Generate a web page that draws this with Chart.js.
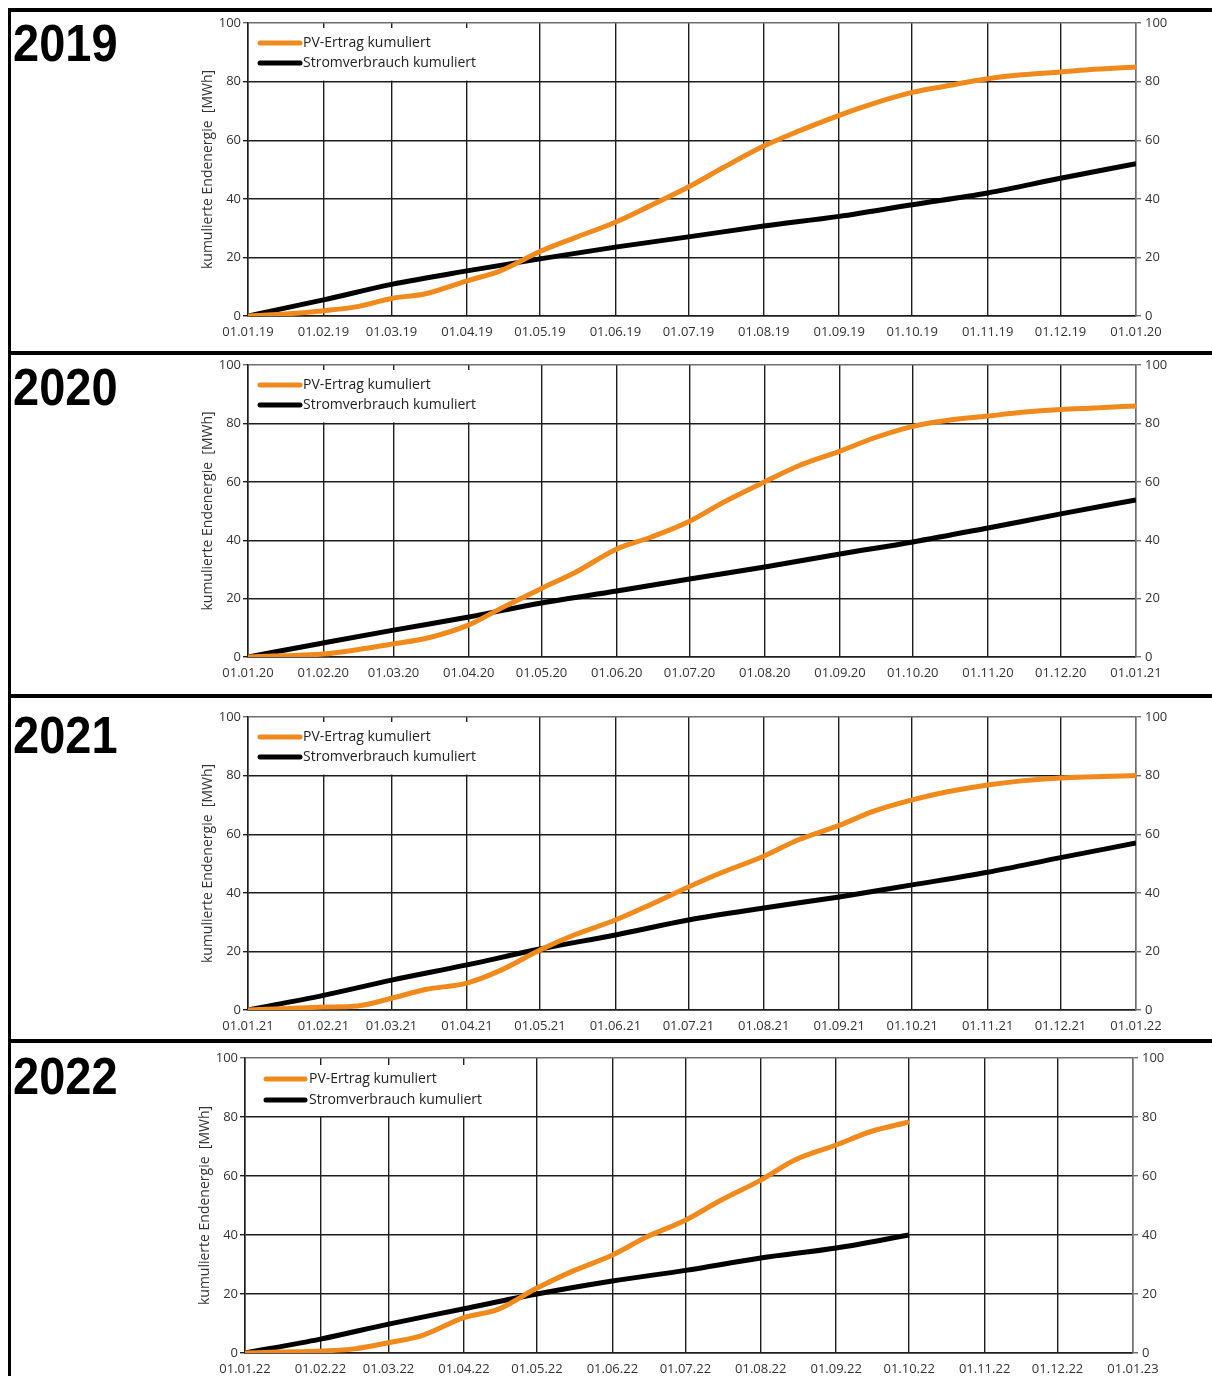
<!DOCTYPE html>
<html lang="de">
<head>
    <meta charset="UTF-8">
    <title>Kumulierte Endenergie 2019 - 2022</title>
    <script src="https://cdn.jsdelivr.net/npm/chart.js"></script>
    <style>
        body {
            margin: 0;
            background: #fff;
        }

        #page {
            position: relative;
            width: 1212px;
            height: 1376px;
            overflow: hidden;
            background: #fff;
        }

        canvas {
            position: absolute;
        }

        .year {
            position: absolute;
            left: 13px;
            font-family: 'Liberation Sans', Arial, sans-serif;
            font-weight: bold;
            font-size: 47px;
            line-height: 1;
            color: #000;
            transform-origin: left top;
            transform: scaleY(1.1);
        }

        .rule {
            position: absolute;
            background: #000;
            z-index: 2;
        }
    </style>
</head>
<body>
<div id="page">
    <div class="rule" style="left:8px; top:8px; width:1204px; height:4px;"></div>
    <div class="rule" style="left:8px; top:8px; width:3px; height:1368px;"></div>
    <div class="rule" style="left:8px; top:351px; width:1204px; height:4px;"></div>
    <div class="rule" style="left:8px; top:694px; width:1204px; height:4px;"></div>
    <div class="rule" style="left:8px; top:1039px; width:1204px; height:4px;"></div>

    <div class="year" style="top:17px;">2019</div>
    <div class="year" style="top:361px;">2020</div>
    <div class="year" style="top:709px;">2021</div>
    <div class="year" style="top:1050px;">2022</div>

    <canvas id="c2019"></canvas>
    <canvas id="c2020"></canvas>
    <canvas id="c2021"></canvas>
    <canvas id="c2022"></canvas>
</div>

<script>
    // Tage ab 01.01. (Monatsanfang und Monatsmitte)
    const monthStarts = [0, 31, 59, 90, 120, 151, 181, 212, 243, 273, 304, 334, 365];
    const monthStartsLeap = [0, 31, 60, 91, 121, 152, 182, 213, 244, 274, 305, 335, 366];
    const halfMonths = [0, 14, 31, 45, 59, 73, 90, 104, 120, 134, 151, 165, 181, 195, 212, 226, 243, 257, 273, 287, 304, 318, 334, 348, 365];
    const halfMonthsLeap = [0, 14, 31, 45, 60, 74, 91, 105, 121, 135, 152, 166, 182, 196, 213, 227, 244, 258, 274, 288, 305, 319, 335, 349, 366];
    const halfMonths2022 = [0, 14, 31, 45, 59, 73, 90, 104, 120, 134, 151, 165, 181, 195, 212, 226, 243, 257, 273];
    const monthStarts2022 = [0, 31, 59, 90, 120, 151, 181, 212, 243, 273];

    const labels2019 = ['01.01.19', '01.02.19', '01.03.19', '01.04.19', '01.05.19', '01.06.19', '01.07.19', '01.08.19', '01.09.19', '01.10.19', '01.11.19', '01.12.19', '01.01.20'];
    const labels2020 = ['01.01.20', '01.02.20', '01.03.20', '01.04.20', '01.05.20', '01.06.20', '01.07.20', '01.08.20', '01.09.20', '01.10.20', '01.11.20', '01.12.20', '01.01.21'];
    const labels2021 = ['01.01.21', '01.02.21', '01.03.21', '01.04.21', '01.05.21', '01.06.21', '01.07.21', '01.08.21', '01.09.21', '01.10.21', '01.11.21', '01.12.21', '01.01.22'];
    const labels2022 = ['01.01.22', '01.02.22', '01.03.22', '01.04.22', '01.05.22', '01.06.22', '01.07.22', '01.08.22', '01.09.22', '01.10.22', '01.11.22', '01.12.22', '01.01.23'];

    // MWh, kumuliert
    const pv2019 = [0, 0.6, 1.8, 3.2, 6, 7.6, 12, 15.5, 22, 26.6, 32, 37.5, 44, 50.5, 58, 63, 68.5, 72.5, 76.3, 78.5, 81, 82.3, 83.3, 84.2, 85];
    const strom2019 = [0, 5.5, 10.8, 15.4, 19.5, 23.5, 27, 30.7, 34, 38, 42, 47, 52];

    const pv2020 = [0, 0.4, 1, 2.5, 4.5, 6.5, 11, 17, 23.5, 29, 37, 41, 46.5, 53, 60, 65.5, 70.5, 75, 79, 81, 82.5, 83.8, 84.8, 85.3, 86];
    const strom2020 = [0, 4.8, 9.2, 13.7, 18.5, 22.6, 26.7, 30.8, 35.3, 39.4, 44.2, 49, 53.8];

    const pv2021 = [0, 0.4, 1, 1.4, 4, 7, 9.2, 13.6, 20.5, 25.6, 30.7, 35.8, 42, 47, 52.5, 58, 63, 67.8, 71.7, 74.4, 76.8, 78.2, 79.2, 79.6, 80];
    const strom2021 = [0, 5, 10.2, 15.4, 20.8, 25.6, 30.7, 34.8, 38.6, 42.7, 47, 52, 57];

    const pv2022 = [0, 0.3, 0.7, 1.4, 3.5, 6, 12, 14.8, 22, 27.5, 33.2, 39.3, 45, 51.5, 58.6, 65.4, 70.5, 75, 78.3];
    const strom2022 = [0, 4.7, 9.8, 15, 20, 24.4, 28, 32.2, 35.6, 40];

    const seriesNames = ['PV-Ertrag kumuliert', 'Stromverbrauch kumuliert'];
    const yTitle = 'kumulierte Endenergie  [MWh]';

    const ORANGE = '#f18a1c';
    const GRID = '#1e1e1e';
    const EDGE = '#6e6e6e';
    const FONT = "'Open Sans', 'Noto Sans', sans-serif";

    function toPoints(days, values) {
        return values.map((v, i) => ({ x: days[i], y: v }));
    }

    // Legende im Diagramm, mit weissem Hintergrund
    const innerLegend = {
        id: 'innerLegend',
        beforeDatasetsDraw(chart, args, opts) {
            const ctx = chart.ctx;
            const a = chart.chartArea;
            const y80 = chart.scales.y.getPixelForValue(80);
            ctx.save();
            ctx.fillStyle = '#fff';
            ctx.fillRect(a.left + 1, a.top + opts.boxTop, opts.boxWidth, y80 - 1 - (a.top + opts.boxTop));
            chart.data.datasets.forEach((ds, i) => {
                const y = a.top + opts.rows[i];
                ctx.strokeStyle = ds.borderColor;
                ctx.lineWidth = 5;
                ctx.lineCap = 'round';
                ctx.beginPath();
                ctx.moveTo(a.left + opts.lineFrom, y);
                ctx.lineTo(a.left + opts.lineTo, y);
                ctx.stroke();
                ctx.fillStyle = '#222';
                ctx.font = '14px ' + FONT;
                ctx.textBaseline = 'middle';
                ctx.fillText(ds.label, a.left + opts.textX, y + 0.5);
            });
            ctx.restore();
        }
    };

    function makeChart(id, p) {
        const canvas = document.getElementById(id);
        const w = (p.right - p.left) + 68 + 76;
        const h = (p.bottom - p.top) + 12 + 34;
        canvas.width = w;
        canvas.height = h;
        canvas.style.left = (p.left - 68) + 'px';
        canvas.style.top = (p.top - 12) + 'px';
        canvas.style.width = w + 'px';
        canvas.style.height = h + 'px';

        const lastDay = p.ticks[p.ticks.length - 1];

        return new Chart(canvas, {
            type: 'line',
            data: {
                datasets: [
                    {
                        label: seriesNames[0],
                        data: toPoints(p.pvDays, p.pv),
                        borderColor: ORANGE,
                        borderWidth: 5,
                        pointRadius: 0,
                        cubicInterpolationMode: 'monotone'
                    },
                    {
                        label: seriesNames[1],
                        data: toPoints(p.stromDays, p.strom),
                        borderColor: '#000',
                        borderWidth: 5,
                        pointRadius: 0,
                        cubicInterpolationMode: 'monotone'
                    }
                ]
            },
            options: {
                responsive: false,
                animation: false,
                devicePixelRatio: 1,
                layout: { padding: { top: 12, left: 0, right: 0, bottom: 0 } },
                plugins: {
                    legend: { display: false },
                    tooltip: { enabled: false },
                    innerLegend: p.legend
                },
                scales: {
                    x: {
                        type: 'linear',
                        min: 0,
                        max: lastDay,
                        afterBuildTicks: s => { s.ticks = p.ticks.map(v => ({ value: v })); },
                        afterFit: s => { s.height = 34; },
                        ticks: {
                            autoSkip: false,
                            maxRotation: 0,
                            padding: 8,
                            color: '#333',
                            font: { family: FONT, size: 13 },
                            callback: (v, i) => p.labels[i]
                        },
                        grid: {
                            drawTicks: false,
                            lineWidth: 1.4,
                            color: c => (c.tick && c.tick.value === lastDay) ? EDGE : GRID
                        },
                        border: { color: GRID, width: 1.5 }
                    },
                    y: {
                        position: 'left',
                        min: 0,
                        max: 100,
                        afterFit: s => { s.width = 68; },
                        ticks: {
                            stepSize: 20,
                            padding: 2,
                            color: '#333',
                            font: { family: FONT, size: 13 }
                        },
                        grid: {
                            tickLength: 5,
                            lineWidth: 1.4,
                            color: c => (c.tick && c.tick.value === 100) ? EDGE : GRID
                        },
                        border: { color: GRID, width: 1.5 },
                        title: {
                            display: true,
                            text: yTitle,
                            color: '#333',
                            font: { family: FONT, size: 14 },
                            padding: { top: 20, bottom: 0 }
                        }
                    },
                    y2: {
                        position: 'right',
                        min: 0,
                        max: 100,
                        afterFit: s => { s.width = 76; },
                        ticks: {
                            stepSize: 20,
                            padding: 4,
                            color: '#333',
                            font: { family: FONT, size: 13 }
                        },
                        grid: {
                            drawOnChartArea: false,
                            tickLength: 5,
                            lineWidth: 1.4,
                            color: EDGE
                        },
                        border: { color: EDGE, width: 1.5 }
                    }
                }
            },
            plugins: [innerLegend]
        });
    }

    const legendStd = { boxTop: 5, boxWidth: 238, rows: [20, 40], lineFrom: 12, lineTo: 52, textX: 55 };
    const legend2022 = { boxTop: 7, boxWidth: 245, rows: [21, 42], lineFrom: 21, lineTo: 60, textX: 64 };

    makeChart('c2019', {
        top: 23, bottom: 316, left: 248, right: 1136,
        ticks: monthStarts, labels: labels2019,
        pvDays: halfMonths, pv: pv2019, stromDays: monthStarts, strom: strom2019,
        legend: legendStd
    });
    makeChart('c2020', {
        top: 365, bottom: 657, left: 248, right: 1136,
        ticks: monthStartsLeap, labels: labels2020,
        pvDays: halfMonthsLeap, pv: pv2020, stromDays: monthStartsLeap, strom: strom2020,
        legend: legendStd
    });
    makeChart('c2021', {
        top: 717, bottom: 1010, left: 248, right: 1136,
        ticks: monthStarts, labels: labels2021,
        pvDays: halfMonths, pv: pv2021, stromDays: monthStarts, strom: strom2021,
        legend: legendStd
    });
    makeChart('c2022', {
        top: 1058, bottom: 1353, left: 245, right: 1133,
        ticks: monthStarts, labels: labels2022,
        pvDays: halfMonths2022, pv: pv2022, stromDays: monthStarts2022, strom: strom2022,
        legend: legend2022
    });
</script>
</body>
</html>
